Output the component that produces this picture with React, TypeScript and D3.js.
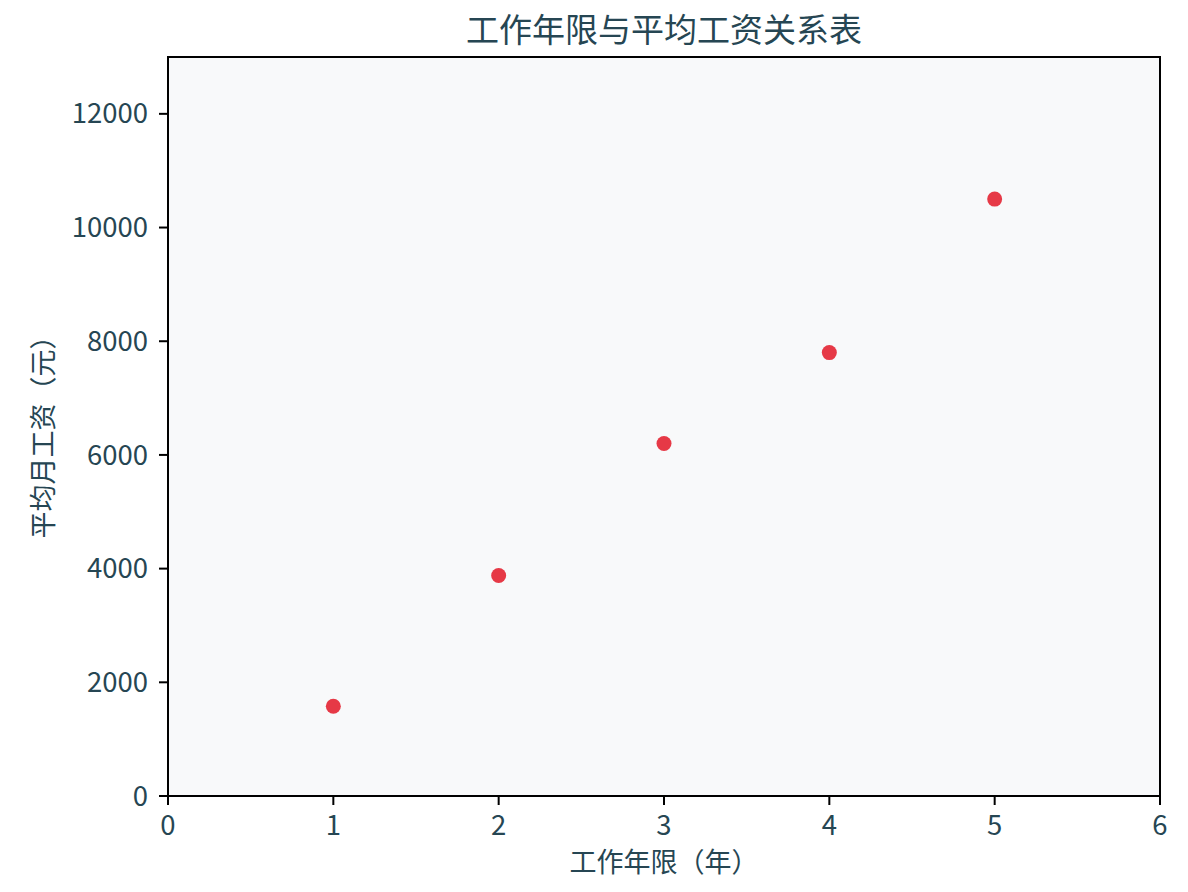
import React from "react";
import * as d3 from "d3";

const years = [1, 2, 3, 4, 5];
const salaries = [1580, 3880, 6200, 7800, 10500];
const xTicks = [0, 1, 2, 3, 4, 5, 6];
const yTicks = [0, 2000, 4000, 6000, 8000, 10000, 12000];

const title = "工作年限与平均工资关系表";
const xLabel = "工作年限（年）";
const yLabel = "平均月工资（元）";

const W = 1188;
const H = 892;
const M = { left: 168, right: 1160, top: 57, bottom: 796 };
const FONT = "'Noto Sans CJK SC', 'Noto Sans', sans-serif";
const TEXT = "#264653";

export default function App() {
  const x = d3.scaleLinear().domain([0, 6]).range([M.left, M.right]);
  const y = d3.scaleLinear().domain([0, 13000]).range([M.bottom, M.top]);
  const cy = (M.top + M.bottom) / 2;
  return (
    <svg width={W} height={H} style={{ position: "absolute", left: 0, top: 0, background: "#fff" }} fontFamily={FONT}>
      <rect x={M.left} y={M.top} width={M.right - M.left} height={M.bottom - M.top} fill="#f8f9fa" />
      {years.map((yr, i) => (
        <circle key={yr} cx={x(yr)} cy={y(salaries[i])} r={7.5} fill="#e63946" />
      ))}
      <rect x={M.left} y={M.top} width={M.right - M.left} height={M.bottom - M.top} fill="none" stroke="#000" strokeWidth={2} />
      {xTicks.map((t) => (
        <g key={"x" + t}>
          <line x1={x(t)} x2={x(t)} y1={M.bottom} y2={M.bottom + 9} stroke="#000" strokeWidth={2} />
          <text x={x(t)} y={M.bottom + 39} textAnchor="middle" fontSize={27.5} fill={TEXT}>{t}</text>
        </g>
      ))}
      {yTicks.map((t) => (
        <g key={"y" + t}>
          <line x1={M.left - 9} x2={M.left} y1={y(t)} y2={y(t)} stroke="#000" strokeWidth={2} />
          <text x={M.left - 20} y={y(t)} dy="0.35em" textAnchor="end" fontSize={27.5} fill={TEXT}>{t}</text>
        </g>
      ))}
      <text x={(M.left + M.right) / 2} y={42} textAnchor="middle" fontSize={33} fill={TEXT}>{title}</text>
      <text x={(M.left + M.right) / 2} y={872} textAnchor="middle" fontSize={27} fill={TEXT}>{xLabel}</text>
      <text transform={`translate(53,${cy + 4}) rotate(-90)`} textAnchor="middle" fontSize={27} fill={TEXT}>{yLabel}</text>
    </svg>
  );
}
